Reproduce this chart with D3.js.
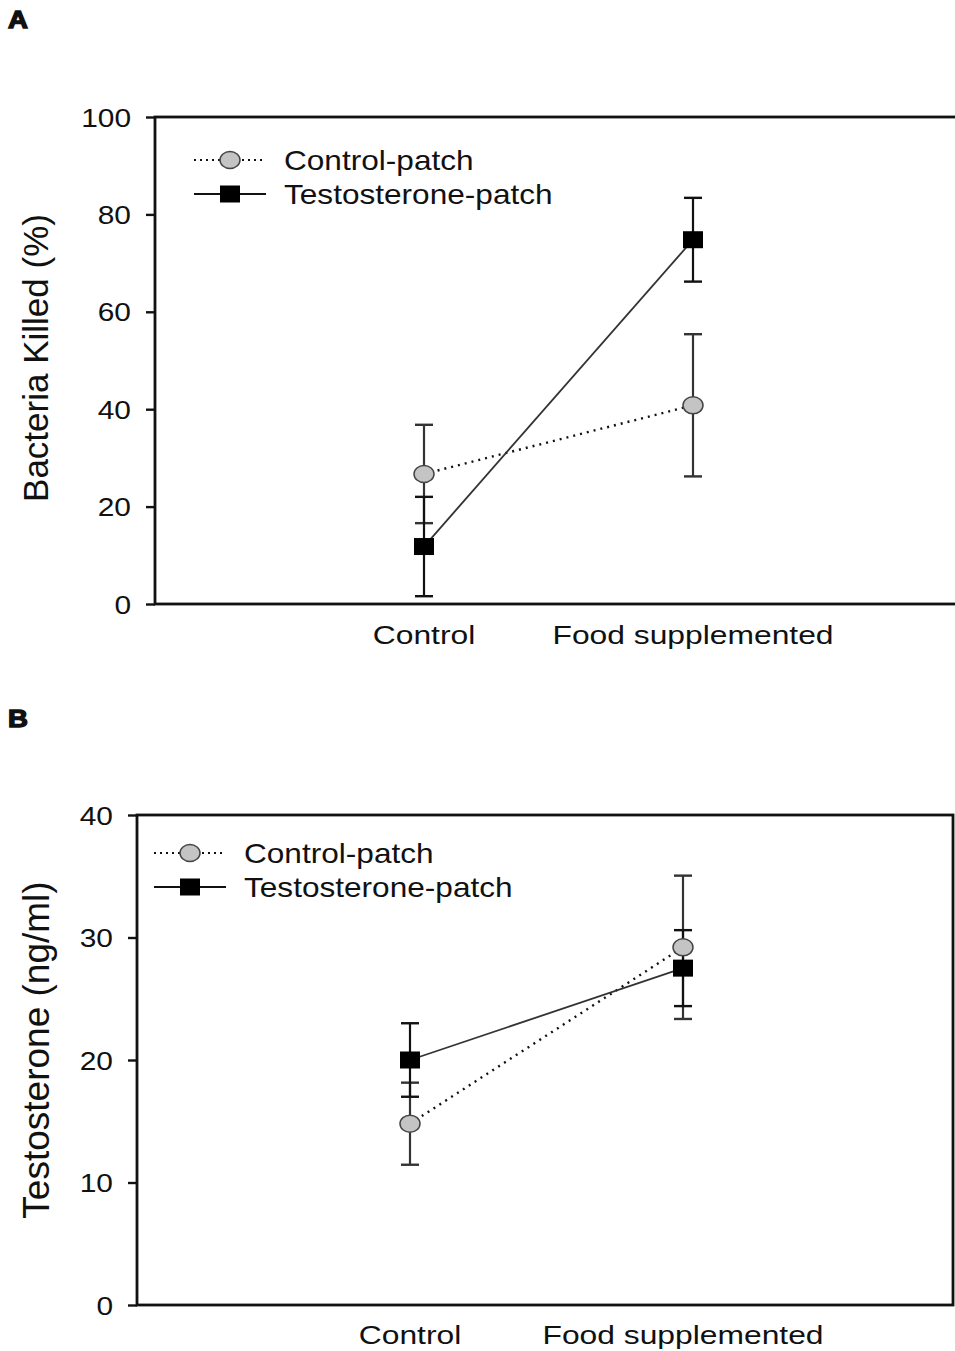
<!DOCTYPE html>
<html><head><meta charset="utf-8">
<script src="https://cdn.jsdelivr.net/npm/d3@7"></script>
<style>body{margin:0;background:#fff}svg{display:block}text{font-family:"Liberation Sans",Arial,sans-serif;fill:#111}</style>
</head><body>
<script>
const categories = ["Control", "Food supplemented"];
const seriesNames = ["Control-patch", "Testosterone-patch"];
// Panel A: Bacteria killed (%)
const aControlPatch = [26.7, 40.8];
const aControlPatchErr = [10.1, 14.6];
const aTestoPatch = [11.8, 74.8];
const aTestoPatchErr = [10.2, 8.6];
const aTicks = [0, 20, 40, 60, 80, 100];
// Panel B: Testosterone (ng/ml)
const bControlPatch = [14.8, 29.2];
const bControlPatchErr = [3.35, 5.85];
const bTestoPatch = [20.0, 27.5];
const bTestoPatchErr = [3.0, 3.1];
const bTicks = [0, 10, 20, 30, 40];

const W = 955, H = 1351;
const svg = d3.select("body").append("svg").attr("width", W).attr("height", H);

function htext(g, x, y, str, size, anchor, sx) {
  return g.append("text").attr("transform", `translate(${x},${y}) scale(${sx},1)`)
    .attr("font-size", size).attr("text-anchor", anchor || "start").text(str);
}

function panel(cfg) {
  const g = svg.append("g");
  const y = d3.scaleLinear().domain([0, cfg.ticks[cfg.ticks.length - 1]]).range([cfg.bottom, cfg.top]);
  const x = d3.scalePoint().domain(categories).range(cfg.xr);
  // frame
  g.append("rect").attr("x", cfg.left).attr("y", cfg.top).attr("width", cfg.right - cfg.left)
    .attr("height", cfg.bottom - cfg.top).attr("fill", "none").attr("stroke", "#111").attr("stroke-width", 2.8);
  // y axis ticks
  const ax = g.append("g").attr("transform", `translate(${cfg.left},0)`)
    .call(d3.axisLeft(y).tickValues(cfg.ticks).tickSize(9).tickFormat(d3.format("d")));
  ax.select(".domain").remove();
  ax.selectAll(".tick line").attr("stroke", "#111").attr("stroke-width", 2.4);
  ax.selectAll(".tick text").remove();
  cfg.ticks.forEach(v => htext(g, cfg.left - 24, y(v) + 9.5, String(v), 26, "end", 1.15));
  // category labels
  categories.forEach(c => htext(g, x(c), cfg.catY, c, 26.5, "middle", 1.2));
  // axis title
  g.append("text").attr("transform", `translate(${cfg.titleX},${cfg.titleY}) rotate(-90)`)
    .attr("font-size", cfg.titleSize).attr("text-anchor", "middle").text(cfg.title);
  // panel letter
  htext(g, 8, cfg.letterY, cfg.letter, 23, "start", 1.2)
    .attr("font-weight", "bold").attr("font-family", "DejaVu Sans")
    .attr("stroke", "#111").attr("stroke-width", 1.3);

  const series = [
    {name: seriesNames[0], vals: cfg.cp, err: cfg.cpe, type: "circle"},
    {name: seriesNames[1], vals: cfg.tp, err: cfg.tpe, type: "square"}
  ];
  const line = d3.line().x((d, i) => x(categories[i])).y(d => y(d));
  series.forEach(s => {
    const p = g.append("path").attr("d", line(s.vals)).attr("fill", "none");
    if (s.type === "circle") p.attr("stroke", "#111").attr("stroke-width", 2.4).attr("stroke-dasharray", "2,5");
    else p.attr("stroke", "#333").attr("stroke-width", 1.8);
  });
  series.forEach(s => {
    s.vals.forEach((v, i) => {
      const cx = x(categories[i]);
      const lo = y(v - s.err[i]), hi = y(v + s.err[i]);
      const col = s.type === "circle" ? "#333" : "#111";
      g.append("line").attr("x1", cx).attr("x2", cx).attr("y1", lo).attr("y2", hi)
        .attr("stroke", col).attr("stroke-width", 2.2);
      [lo, hi].forEach(yy => g.append("line").attr("x1", cx - 9).attr("x2", cx + 9).attr("y1", yy).attr("y2", yy)
        .attr("stroke", col).attr("stroke-width", 2.4));
    });
  });
  function marker(type, cx, cy) {
    if (type === "circle") g.append("ellipse").attr("cx", cx).attr("cy", cy).attr("rx", 10).attr("ry", 8.5)
      .attr("fill", "#c4c4c4").attr("stroke", "#444").attr("stroke-width", 1.5);
    else g.append("rect").attr("x", cx - 10).attr("y", cy - 8.5).attr("width", 20).attr("height", 17).attr("fill", "#000");
  }
  series.forEach(s => s.vals.forEach((v, i) => marker(s.type, x(categories[i]), y(v))));
  // legend
  series.forEach((s, i) => {
    const ly = cfg.legY + i * 34;
    const l = g.append("line").attr("x1", cfg.legX - 36).attr("x2", cfg.legX + 36).attr("y1", ly).attr("y2", ly);
    if (s.type === "circle") l.attr("stroke", "#111").attr("stroke-width", 2).attr("stroke-dasharray", "2,4");
    else l.attr("stroke", "#111").attr("stroke-width", 2);
    marker(s.type, cfg.legX, ly);
    htext(g, cfg.legX + 54, ly + 10, s.name, 27, "start", 1.17);
  });
}

panel({letter: "A", letterY: 28, top: 117, bottom: 604, left: 155, right: 1000, xr: [424, 693],
  ticks: aTicks, cp: aControlPatch, cpe: aControlPatchErr, tp: aTestoPatch, tpe: aTestoPatchErr,
  catY: 644, title: "Bacteria Killed (%)", titleSize: 35, titleX: 48, titleY: 358, legX: 230, legY: 160});
panel({letter: "B", letterY: 727, top: 815, bottom: 1305, left: 137, right: 953, xr: [410, 683],
  ticks: bTicks, cp: bControlPatch, cpe: bControlPatchErr, tp: bTestoPatch, tpe: bTestoPatchErr,
  catY: 1344, title: "Testosterone (ng/ml)", titleSize: 37, titleX: 49, titleY: 1050, legX: 190, legY: 853});
</script>
</body></html>
